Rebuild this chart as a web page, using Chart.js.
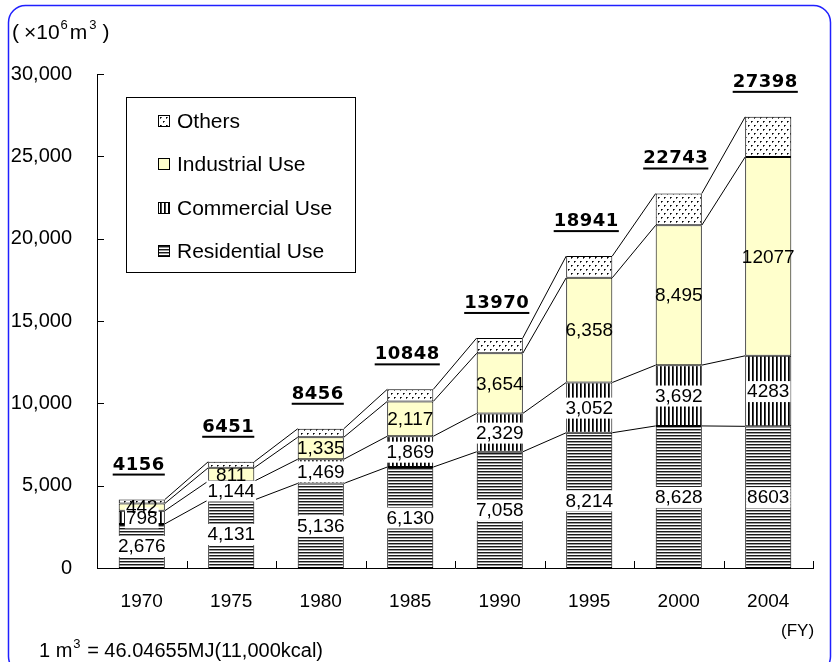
<!DOCTYPE html>
<html><head><meta charset="utf-8">
<script src="https://cdn.jsdelivr.net/npm/chart.js@4/dist/chart.umd.min.js"></script>
<style>html,body{margin:0;padding:0;background:#fff;}</style>
</head><body>
<canvas id="c" width="832" height="662"></canvas>
<script>
const years = ['1970','1975','1980','1985','1990','1995','2000','2004'];
const residential = [2676,4131,5136,6130,7058,8214,8628,8603];
const commercial  = [798,1144,1469,1869,2329,3052,3692,4283];
const industrial  = [442,811,1335,2117,3654,6358,8495,12077];
const others      = [240,365,516,732,929,1317,1928,2435];
const totals      = [4156,6451,8456,10848,13970,18941,22743,27398];
const residentialLabels = ['2,676','4,131','5,136','6,130','7,058','8,214','8,628','8603'];
const commercialLabels  = ['798','1,144','1,469','1,869','2,329','3,052','3,692','4283'];
const industrialLabels  = ['442','811','1,335','2,117','3,654','6,358','8,495','12077'];
const totalLabels = ['4156','6451','8456','10848','13970','18941','22743','27398'];
const seriesNames = ['Residential Use','Commercial Use','Industrial Use','Others'];
const yMin = 0, yMax = 30000, yStep = 5000;

const canvas = document.getElementById('c');
const mainCtx = canvas.getContext('2d');
function makePattern(w, h, draw) {
  const t = document.createElement('canvas'); t.width = w; t.height = h;
  const x = t.getContext('2d'); x.fillStyle = '#fff'; x.fillRect(0,0,w,h); draw(x);
  return mainCtx.createPattern(t, 'repeat');
}
const patRes = makePattern(1, 3, x => { x.fillStyle='#1a1a1a'; x.fillRect(0,0,1,1); x.fillStyle='#999'; x.fillRect(0,1,1,1); });
const patCom = makePattern(4, 1, x => { x.fillStyle='#000'; x.fillRect(0,0,1,1); x.fillStyle='#444'; x.fillRect(1,0,1,1); });
const patOth = makePattern(6, 8, x => { x.fillStyle='#000'; x.fillRect(1,1,1,1); x.fillRect(4,5,1,1); x.fillStyle='#555'; x.fillRect(2,1,1,1); x.fillRect(5,5,1,1); x.fillRect(1,2,1,1); x.fillRect(4,6,1,1); });
const colInd = '#FFFFCC';
const fills = [patRes, patCom, colInd, patOth];
const seriesData = [residential, commercial, industrial, others];

const FONT = '"Liberation Sans", Arial, sans-serif';

const overlay = {
  id: 'overlay',
  afterDatasetsDraw(chart) {
    const ctx = chart.ctx;
    const ys = chart.scales.y;
    const metas = [0,1,2,3].map(i => chart.getDatasetMeta(i));
    ctx.save();
    ctx.strokeStyle = '#000'; ctx.lineWidth = 1;
    for (let k = 0; k < 4; k++) {
      for (let i = 0; i < years.length - 1; i++) {
        const a = metas[k].data[i], b = metas[k].data[i+1];
        ctx.beginPath();
        ctx.moveTo(a.x + a.width/2, a.y);
        ctx.lineTo(b.x - b.width/2, b.y);
        ctx.stroke();
      }
    }
    ctx.font = '19px ' + FONT;
    ctx.textAlign = 'center'; ctx.textBaseline = 'middle';
    const labelSets = [residentialLabels, commercialLabels, industrialLabels];
    for (let k = 0; k < 3; k++) {
      for (let i = 0; i < years.length; i++) {
        const el = metas[k].data[i];
        const cy = (el.y + el.base) / 2;
        const txt = labelSets[k][i];
        const w = ctx.measureText(txt).width;
        if (k < 2) { ctx.fillStyle = '#fff'; ctx.fillRect(el.x - w/2 - 1, cy - 10, w + 2, 21); }
        ctx.fillStyle = '#000';
        ctx.fillText(txt, el.x, cy + 1);
      }
    }
    ctx.font = 'bold 18px "DejaVu Sans", sans-serif';
    ctx.letterSpacing = '0.5px';
    ctx.textAlign = 'left'; ctx.textBaseline = 'alphabetic';
    for (let i = 0; i < years.length; i++) {
      const el = metas[3].data[i];
      const txt = totalLabels[i];
      const w = ctx.measureText(txt).width;
      const x0 = el.x - 3 - w/2;
      const by = ys.getPixelForValue(totals[i]) - 30;
      ctx.fillStyle = '#000';
      ctx.fillText(txt, x0, by);
      ctx.fillRect(x0, by + 4, w, 2);
    }
    ctx.restore();
  },
  afterDraw(chart) {
    const ctx = chart.ctx;
    const a = chart.chartArea;
    const ys = chart.scales.y;
    ctx.save();
    ctx.strokeStyle = '#000'; ctx.lineWidth = 1;
    ys.ticks.forEach(t => {
      const py = Math.round(ys.getPixelForValue(t.value)) + 0.5;
      ctx.beginPath(); ctx.moveTo(a.left, py); ctx.lineTo(a.left + 7, py); ctx.stroke();
    });
    const step = (a.right - a.left) / years.length;
    for (let i = 0; i <= years.length; i++) {
      const px = Math.round(a.left + i * step) + 0.5;
      ctx.beginPath(); ctx.moveTo(px, a.bottom); ctx.lineTo(px, a.bottom - 7); ctx.stroke();
    }
    // legend
    ctx.fillStyle = '#fff'; ctx.fillRect(126, 97, 229, 175);
    ctx.strokeRect(126.5, 97.5, 229, 175);
    const legY = [121, 164, 208, 251];
    const order = [3, 2, 1, 0];
    ctx.font = '21px ' + FONT; ctx.textAlign = 'left'; ctx.textBaseline = 'middle';
    order.forEach((k, j) => {
      const cy = legY[j];
      ctx.fillStyle = fills[k];
      ctx.fillRect(158, cy - 6, 12, 12);
      ctx.strokeStyle = '#000';
      ctx.strokeRect(158.5, cy - 5.5, 11, 11);
      ctx.fillStyle = '#000';
      ctx.fillText(seriesNames[k], 177, cy + 1);
    });
    // unit label
    ctx.textBaseline = 'alphabetic';
    let x = 12;
    const base = 39;
    const part = (s, f, dy, gap) => { ctx.font = f; ctx.fillText(s, x, base + dy); x += ctx.measureText(s).width + (gap || 0); };
    part('(', '21px ' + FONT, 0, 5);
    part('\u00d710', '21px ' + FONT, 0, 1);
    part('6', '13px ' + FONT, -10, 2);
    part('m', '21px ' + FONT, 0, 2);
    part('3', '13px ' + FONT, -10, 6);
    part(')', '21px ' + FONT, 0, 0);
    // FY
    ctx.font = '17px ' + FONT;
    ctx.fillText('(FY)', 781, 636);
    // footnote
    x = 39;
    const fb = 657;
    ctx.font = '20px ' + FONT; ctx.fillText('1 m', x, fb); x += ctx.measureText('1 m').width + 1;
    ctx.font = '13px ' + FONT; ctx.fillText('3', x, fb - 9); x += ctx.measureText('3').width + 1;
    ctx.font = '20px ' + FONT; ctx.fillText(' = 46.04655MJ(11,000kcal)', x, fb);
    // frame
    ctx.strokeStyle = '#2020ff'; ctx.lineWidth = 1.5;
    ctx.beginPath();
    ctx.roundRect(8.5, 5.5, 822, 668, 17);
    ctx.stroke();
    ctx.restore();
  }
};

new Chart(canvas, {
  type: 'bar',
  data: {
    labels: years,
    datasets: seriesNames.map((n, k) => ({
      label: n,
      data: seriesData[k],
      backgroundColor: fills[k],
      borderColor: '#000',
      borderWidth: 1,
      borderSkipped: false,
      barPercentage: 0.515,
      categoryPercentage: 1.0
    }))
  },
  options: {
    responsive: false,
    animation: false,
    devicePixelRatio: 1,
    layout: { padding: { top: 74, right: 19, bottom: 0, left: 0 } },
    plugins: { legend: { display: false }, tooltip: { enabled: false }, title: { display: false } },
    scales: {
      x: {
        stacked: true,
        grid: { display: false, drawTicks: false },
        border: { display: true, color: '#000', width: 1 },
        ticks: { color: '#000', font: { family: FONT, size: 19 }, padding: 22, maxRotation: 0 },
        afterFit(s) { s.height = 94; }
      },
      y: {
        stacked: true,
        min: yMin, max: yMax,
        grid: { display: false, drawTicks: false },
        border: { display: true, color: '#000', width: 1 },
        ticks: {
          stepSize: yStep, color: '#000', font: { family: FONT, size: 20 }, padding: 25,
          callback: v => v.toLocaleString('en-US')
        },
        afterFit(s) { s.width = 97; }
      }
    }
  },
  plugins: [overlay]
});
</script>
</body></html>
